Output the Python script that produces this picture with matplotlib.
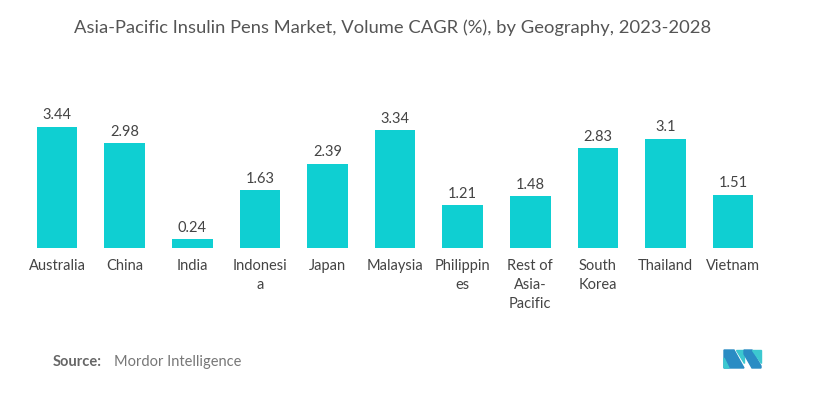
import matplotlib
matplotlib.use('Agg')
import matplotlib.pyplot as plt
from matplotlib.patches import Polygon

# data
countries = ['Australia', 'China', 'India', 'Indonesi\na', 'Japan', 'Malaysia',
             'Philippin\nes', 'Rest of\nAsia-\nPacific', 'South\nKorea', 'Thailand', 'Vietnam']
cagr = [3.44, 2.98, 0.24, 1.63, 2.39, 3.34, 1.21, 1.48, 2.83, 3.1, 1.51]
value_labels = ['3.44', '2.98', '0.24', '1.63', '2.39', '3.34', '1.21', '1.48', '2.83', '3.1', '1.51']

plt.rcParams['font.family'] = ['Lato', 'DejaVu Sans']

fig = plt.figure(figsize=(8.3, 3.96), dpi=100)
ax = fig.add_axes([0.028, 0.374, 0.896, 0.356])

x = range(len(countries))
bars = ax.bar(x, cagr, width=0.6, color='#0fcfd2')
for b, lab in zip(bars, value_labels):
    ax.text(b.get_x() + b.get_width() / 2, b.get_height() + 0.12, lab,
            ha='center', va='bottom', fontsize=10.5, color='#444444')

ax.set_xlim(-0.5, len(countries) - 0.5)
ax.set_ylim(0, 4)
ax.set_xticks(list(x))
ax.set_xticklabels(countries, fontsize=10.5, color='#444444', linespacing=1.45, va='top')
ax.tick_params(axis='x', length=0, pad=8)
ax.set_yticks([])
for s in ax.spines.values():
    s.set_visible(False)

fig.text(0.473, 0.93, 'Asia-Pacific Insulin Pens Market, Volume CAGR (%), by Geography, 2023-2028',
         ha='center', va='center', fontsize=13.2, color='#555555')

fig.text(0.063, 0.085, 'Source:', fontsize=10.5, color='#666666', fontweight='bold', va='center')
fig.text(0.137, 0.085, 'Mordor Intelligence', fontsize=10.5, color='#777777', va='center')

# small logo
W, H = 830, 396
def poly(pts, c):
    fig.patches.append(Polygon([(px / W, 1 - py / H) for px, py in pts], closed=True,
                               transform=fig.transFigure, color=c))
poly([(724, 350), (734, 350), (744, 368), (724, 368)], '#2a8cc4')
poly([(724, 358), (729, 368), (724, 368)], '#3cc8d0')
poly([(736, 350), (744, 350), (744, 363)], '#3cc8d0')
poly([(744, 350), (752, 350), (761, 366), (761, 368), (752, 368), (744, 354)], '#2a8cc4')
poly([(752, 350), (761, 350), (761, 363)], '#3cc8d0')

fig.savefig('out.png', dpi=100, facecolor='white')
